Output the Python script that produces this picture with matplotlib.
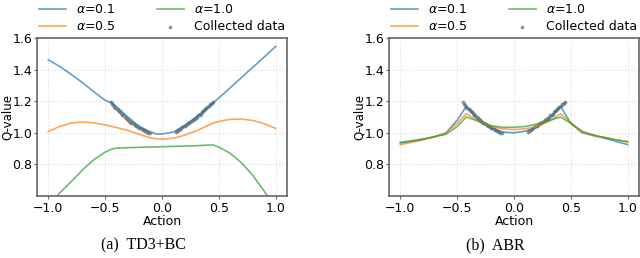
import matplotlib
matplotlib.use("Agg")
import matplotlib.pyplot as plt
import numpy as np

# ---- data ----
actions = [-1.0, -0.9, -0.8, -0.7, -0.6, -0.5, -0.44, -0.4, -0.3, -0.2, -0.1, -0.05, 0.0,
           0.1, 0.2, 0.3, 0.4, 0.45, 0.5, 0.6, 0.7, 0.8, 0.9, 1.0]

td3_a01 = [1.462, 1.42, 1.37, 1.318, 1.26, 1.205, 1.19, 1.165, 1.10, 1.04, 1.005, 0.992, 0.992,
           1.005, 1.045, 1.10, 1.155, 1.19, 1.22, 1.285, 1.35, 1.415, 1.48, 1.546]
td3_a05 = [1.008, 1.04, 1.062, 1.068, 1.063, 1.05, 1.04, 1.033, 1.015, 0.99, 0.968, 0.962, 0.960,
           0.966, 0.985, 1.012, 1.045, 1.062, 1.072, 1.085, 1.087, 1.078, 1.057, 1.028]
td3_a10 = [0.52, 0.62, 0.69, 0.765, 0.83, 0.878, 0.898, 0.903, 0.906, 0.908, 0.910, 0.911, 0.912,
           0.914, 0.916, 0.918, 0.922, 0.923, 0.91, 0.87, 0.81, 0.73, 0.63, 0.52]

abr_actions = [-1.0, -0.9, -0.8, -0.7, -0.6, -0.5, -0.42, -0.3, -0.2, -0.1, 0.0,
               0.1, 0.2, 0.3, 0.41, 0.5, 0.6, 0.7, 0.8, 0.9, 1.0]
abr_a01 = [0.935, 0.945, 0.96, 0.975, 0.998, 1.08, 1.167, 1.07, 1.03, 1.005, 1.0,
           1.01, 1.035, 1.08, 1.167, 1.06, 1.0, 0.985, 0.965, 0.945, 0.925]
abr_a05 = [0.925, 0.94, 0.955, 0.975, 1.0, 1.06, 1.12, 1.07, 1.04, 1.025, 1.02,
           1.025, 1.04, 1.07, 1.12, 1.065, 1.0, 0.98, 0.97, 0.955, 0.94]
abr_a10 = [0.94, 0.95, 0.96, 0.975, 0.99, 1.04, 1.10, 1.07, 1.045, 1.035, 1.035,
           1.04, 1.055, 1.075, 1.10, 1.06, 1.01, 0.985, 0.97, 0.955, 0.945]

data_x = [-0.45, -0.44, -0.43, -0.42, -0.41, -0.40, -0.39, -0.38, -0.37, -0.36, -0.35, -0.34,
          -0.33, -0.32, -0.31, -0.30, -0.29, -0.28, -0.27, -0.26, -0.25, -0.24, -0.23, -0.22,
          -0.21, -0.20, -0.19, -0.18, -0.17, -0.16, -0.15, -0.14, -0.13, -0.12, -0.11,
          0.12, 0.13, 0.14, 0.15, 0.16, 0.17, 0.18, 0.19, 0.20, 0.21, 0.22, 0.23, 0.24, 0.25,
          0.26, 0.27, 0.28, 0.29, 0.30, 0.31, 0.32, 0.33, 0.34, 0.35, 0.36, 0.37, 0.38, 0.39,
          0.40, 0.41, 0.42, 0.43, 0.44, 0.45]
data_y = [1.195, 1.18, 1.175, 1.165, 1.16, 1.15, 1.145, 1.135, 1.13, 1.125, 1.115, 1.11,
          1.10, 1.095, 1.09, 1.08, 1.075, 1.07, 1.065, 1.06, 1.055, 1.05, 1.045, 1.04,
          1.035, 1.03, 1.03, 1.025, 1.02, 1.015, 1.01, 1.01, 1.005, 1.0, 1.0,
          1.005, 1.01, 1.015, 1.02, 1.025, 1.03, 1.035, 1.04, 1.045, 1.05, 1.055, 1.06, 1.065, 1.07,
          1.075, 1.08, 1.085, 1.09, 1.095, 1.10, 1.11, 1.115, 1.12, 1.13, 1.135, 1.145, 1.15, 1.16,
          1.165, 1.17, 1.18, 1.185, 1.19, 1.195]

labels = [r'$\alpha$=0.1', r'$\alpha$=0.5', r'$\alpha$=1.0', 'Collected data']
xticks = [-1.0, -0.5, 0.0, 0.5, 1.0]
yticks = [0.8, 1.0, 1.2, 1.4, 1.6]
captions = ['(a)  TD3+BC', '(b)  ABR']

# ---- plot ----
plt.rcParams['font.family'] = ['DejaVu Sans']
plt.rcParams['font.size'] = 9
fig = plt.figure(figsize=(6.4, 2.58), dpi=100)

ax1 = fig.add_axes([37/640, 62/258, 250/640, 158/258])
ax2 = fig.add_axes([389/640, 62/258, 250/640, 158/258])

colors = ['#1f77b4', '#ff7f0e', '#2ca02c']

panels = [
    (ax1, actions, [td3_a01, td3_a05, td3_a10]),
    (ax2, abr_actions, [abr_a01, abr_a05, abr_a10]),
]

for ax, xs, series in panels:
    ax.scatter(data_x, data_y, s=7, color='#777777', alpha=0.8, zorder=2, linewidths=0,
               label=labels[3])
    handles = []
    for ys, c, lab in zip(series, colors, labels[:3]):
        h, = ax.plot(xs, ys, color=c, alpha=0.7, lw=1.2, label=lab, zorder=3)
        handles.append(h)
    sc = ax.collections[0]
    ax.set_xlim(-1.1, 1.1)
    ax.set_ylim(0.6, 1.6)
    ax.set_xticks(xticks)
    ax.set_yticks(yticks)
    ax.grid(True, color='#dddddd', ls=':', lw=0.8)
    ax.set_axisbelow(True)
    for sp in ax.spines.values():
        sp.set_color('#666666')
        sp.set_linewidth(1.2)
    ax.tick_params(length=2, width=0.8, color='#666666', pad=2)
    ax.tick_params(axis='y', pad=1.2)
    ax.set_xlabel('Action', labelpad=0)
    ax.set_ylabel('Q-value', va='center', fontsize=8.5)
    ax.yaxis.set_label_coords(-(37 - 7) / 250, 0.5)
    ax.legend(handles + [sc], labels, ncol=2, frameon=False, loc='lower left',
              bbox_to_anchor=(0, 1.02, 1, 0.2), mode='expand', borderaxespad=0,
              handlelength=2.2, markerscale=1.0, labelspacing=0.3, borderpad=0.15)

fig.text(143.5/640, 1 - 245/258, captions[0], family='Liberation Serif', fontsize=11.5,
         ha='center', va='center')
fig.text(495/640, 1 - 245/258, captions[1], family='Liberation Serif', fontsize=11.5,
         ha='center', va='center')

fig.savefig('out.png', dpi=100)
